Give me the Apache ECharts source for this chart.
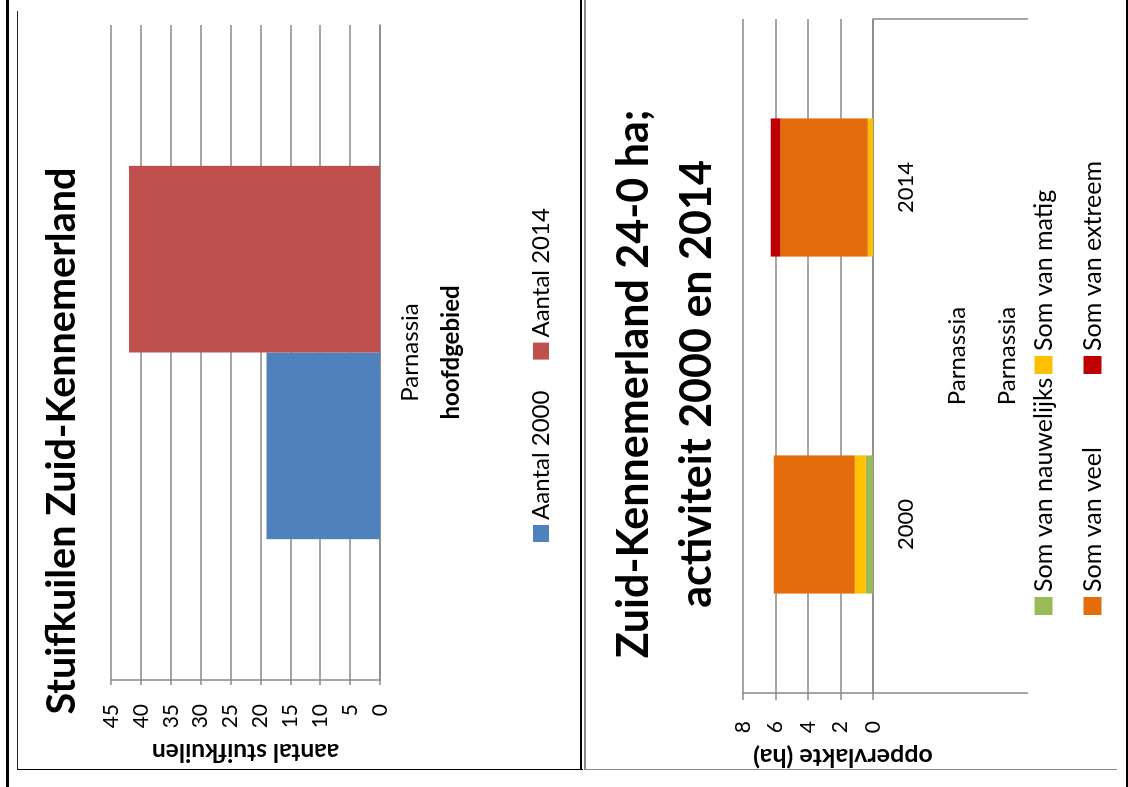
<!DOCTYPE html>
<html><head><meta charset="utf-8">
<script src="https://cdn.jsdelivr.net/npm/echarts@6/dist/echarts.min.js"></script>
<style>
html,body{margin:0;padding:0;background:#fff;width:1128px;height:787px;overflow:hidden;position:relative;}
.rot{position:absolute;top:0;width:769px;transform-origin:0 0;transform:translate(0,769px) rotate(-90deg);}
#c1{left:17px;height:564px;}
#c2{left:586px;height:531px;}
.ln{position:absolute;}
</style></head>
<body>
<div class="ln" style="left:6px;top:0;width:2.5px;height:787px;background:#000"></div>
<div class="ln" style="left:16.5px;top:11px;width:1.8px;height:759px;background:#222"></div>
<div class="ln" style="left:16.5px;top:768.5px;width:566px;height:1.6px;background:#000"></div>
<div class="ln" style="left:579.8px;top:0;width:2.4px;height:770px;background:#000"></div>
<div class="ln" style="left:584.4px;top:0;width:1.9px;height:770px;background:#8a8a8a"></div>
<div class="ln" style="left:584.4px;top:768.5px;width:532.5px;height:1.6px;background:#8a8a8a"></div>
<div class="ln" style="left:1125.7px;top:0;width:2.4px;height:787px;background:#000"></div>
<div id="c1" class="rot"></div>
<div id="c2" class="rot"></div>
<script>
// ---- chart 1 data ----
const cat1 = ['Parnassia'];
const aantal2000 = [19];
const aantal2014 = [42];
// ---- chart 2 data ----
const years = ['2000', '2014'];
const nauwelijks = [0.45, 0];
const matig = [0.68, 0.33];
const veel = [4.98, 5.37];
const extreem = [0, 0.6];

const FF = 'Lato';
const GRID = '#898989';

const c1 = echarts.init(document.getElementById('c1'));
c1.setOption({
  animation: false,
  title: {
    text: 'Stuifkuilen Zuid-Kennemerland', left: 323, top: 20, textAlign: 'center',
    textStyle: {fontFamily: FF, fontWeight: 'bold', fontSize: 39.5, color: '#000'}
  },
  legend: {
    data: ['Aantal 2000', 'Aantal 2014'], left: 222, top: 507, icon: 'rect',
    itemWidth: 17, itemHeight: 16, itemGap: 31,
    textStyle: {fontFamily: FF, fontSize: 24, color: '#000'}
  },
  grid: {left: 89, right: 25, top: 94, bottom: 201, outerBoundsMode: 'none'},
  xAxis: {
    type: 'category', data: cat1,
    axisLine: {lineStyle: {color: GRID, width: 1.5}},
    axisTick: {length: 8, lineStyle: {color: GRID, width: 1.5}},
    axisLabel: {margin: 18, fontFamily: FF, fontSize: 24, color: '#000'},
    name: 'hoofdgebied', nameLocation: 'middle', nameGap: 59,
    nameTextStyle: {fontFamily: FF, fontWeight: 'bold', fontSize: 24, color: '#000'}
  },
  yAxis: {
    type: 'value', min: 0, max: 45, interval: 5,
    axisLine: {show: true, lineStyle: {color: GRID, width: 1.5}},
    axisTick: {show: true, length: 5, lineStyle: {color: GRID, width: 1.5}},
    splitLine: {lineStyle: {color: GRID, width: 1.5}},
    axisLabel: {margin: 24, fontFamily: FF, fontSize: 21, color: '#000'},
    name: 'aantal stuifkuilen', nameLocation: 'middle', nameRotate: 90, nameGap: 54,
    nameTextStyle: {fontFamily: FF, fontWeight: 'bold', fontSize: 24.5, color: '#000'}
  },
  series: [
    {name: 'Aantal 2000', type: 'bar', data: aantal2000, barGap: '0%', barCategoryGap: '43%', itemStyle: {color: '#4F81BD'}},
    {name: 'Aantal 2014', type: 'bar', data: aantal2014, barGap: '0%', barCategoryGap: '43%', itemStyle: {color: '#C0504D'}}
  ]
});

const c2 = echarts.init(document.getElementById('c2'));
const stack = (name, data, color) => ({name, type: 'bar', stack: 'a', data, barCategoryGap: '59%', itemStyle: {color}});
c2.setOption({
  animation: false,
  title: {
    text: 'Zuid-Kennemerland 24-0 ha;\nactiviteit 2000 en 2014', left: 380, top: 12, textAlign: 'center',
    textStyle: {fontFamily: FF, fontWeight: 'bold', fontSize: 43, lineHeight: 63, color: '#000'}
  },
  legend: [
    {data: ['Som van nauwelijks', 'Som van veel'], orient: 'vertical', left: 149, top: 440, icon: 'rect',
      itemWidth: 18, itemHeight: 18, itemGap: 24, textStyle: {fontFamily: FF, fontSize: 25, color: '#000'}},
    {data: ['Som van matig', 'Som van extreem'], orient: 'vertical', left: 390, top: 440, icon: 'rect',
      itemWidth: 18, itemHeight: 18, itemGap: 24, textStyle: {fontFamily: FF, fontSize: 25, color: '#000'}}
  ],
  grid: {left: 76, right: 19, top: 157, bottom: 244, outerBoundsMode: 'none'},
  xAxis: [
    {type: 'category', data: years, position: 'bottom',
      axisLine: {lineStyle: {color: GRID, width: 1.5}},
      axisTick: {length: 51, lineStyle: {color: GRID, width: 1.5}},
      axisLabel: {margin: 22, fontFamily: FF, fontSize: 22, color: '#000'}},
    {type: 'category', data: ['Parnassia'], position: 'bottom',
      axisLine: {show: false},
      axisTick: {show: true, length: 155, lineStyle: {color: GRID, width: 1.5}},
      axisLabel: {margin: 72, fontFamily: FF, fontSize: 24, color: '#000'},
      name: 'Parnassia', nameLocation: 'middle', nameGap: 122,
      nameTextStyle: {fontFamily: FF, fontSize: 24, color: '#000'}}
  ],
  yAxis: {
    type: 'value', min: 0, max: 8, interval: 2,
    axisLine: {show: true, lineStyle: {color: GRID, width: 1.5}},
    axisTick: {show: true, length: 7, lineStyle: {color: GRID, width: 1.5}},
    splitLine: {lineStyle: {color: GRID, width: 1.5}},
    axisLabel: {margin: 28, fontFamily: FF, fontSize: 21, color: '#000'},
    name: 'oppervlakte (ha)', nameLocation: 'middle', nameRotate: 90, nameGap: 43,
    nameTextStyle: {fontFamily: FF, fontWeight: 'bold', fontSize: 25, color: '#000', padding: [0, 70, 0, 0]}
  },
  series: [
    stack('Som van nauwelijks', nauwelijks, '#9BBB59'),
    stack('Som van matig', matig, '#FFC000'),
    stack('Som van veel', veel, '#E46C0A'),
    stack('Som van extreem', extreem, '#C00000')
  ]
});
</script>
</body></html>
